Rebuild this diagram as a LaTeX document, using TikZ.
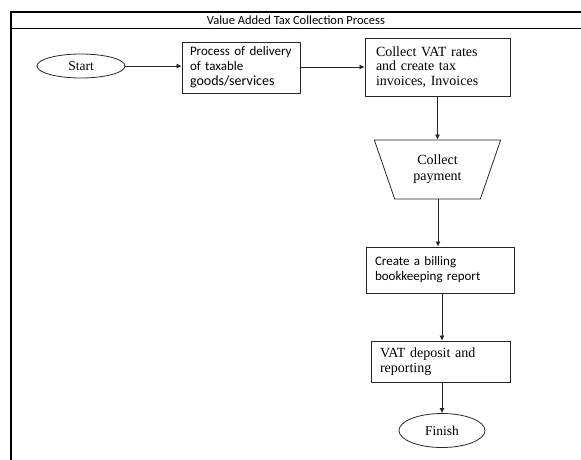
\documentclass[tikz,border=0pt]{standalone}
\usepackage{fontspec}
\setmainfont{Liberation Serif}
\newfontfamily\calib{Carlito}
\usetikzlibrary{arrows.meta,shapes.geometric}
\begin{document}
\begin{tikzpicture}[x=1pt,y=-1pt,
  frame/.style={line width=1.4pt,black},
  box/.style={draw=black!85,line width=0.8pt,rectangle,align=left,inner ysep=0pt},
  oval/.style={draw=black!85,line width=0.8pt,ellipse,inner sep=0pt,font=\fontsize{13.5}{14}\selectfont},
  arr/.style={draw=black!85,line width=0.7pt,-{Latex[length=5pt,width=5pt]}},
  sans/.style={font=\calib\fontsize{13}{15}\selectfont},
  serif/.style={font=\fontsize{14}{14.5}\selectfont}]
\useasboundingbox (0,0) rectangle (581,460);
% frame
\draw[frame] (11,460) -- (11,12) -- (581,12);
\draw[line width=0.9pt] (11,28) -- (581,28);
\node[font=\calib\fontsize{12.5}{12}\selectfont] (title) at (296,20) {Value Added Tax Collection Process};
% nodes
\node[oval,minimum width=88,minimum height=24] (start) at (81,66) {Start};
\node[box,sans,inner xsep=8,text width=102,minimum height=51] (deliv) at (241,67.5)
  {Process of delivery\\of taxable\\{\fontsize{14}{15}\selectfont goods/services}};
\node[box,serif,inner xsep=11,text width=123,minimum height=58] (vat) at (437.5,67)
  {Collect VAT rates\\and create tax\\invoices, Invoices};
\node[trapezium,draw=black!85,line width=0.8pt,trapezium angle=68.3,shape border rotate=180,
  trapezium stretches=true,minimum width=127,minimum height=59,align=center,
  font=\fontsize{14}{16}\selectfont,inner sep=0pt]
  (pay) at (437.5,169.5) {Collect\\payment};
\node[box,sans,inner xsep=9,text width=130,minimum height=46] (bill) at (440,270)
  {Create a billing\\bookkeeping report};
\node[box,serif,inner xsep=9,text width=121,minimum height=41] (dep) at (440.5,361.5)
  {VAT deposit and\\reporting};
\node[oval,minimum width=86,minimum height=34] (fin) at (442,430.5) {Finish};
% connectors
\draw[arr] (start.east) -- (start.east -| deliv.west);
\draw[arr] (deliv.east |- vat.west) -- (vat.west);
\draw[arr] (vat.south) -- (vat.south |- pay.north);
\draw[arr] (pay.south -| 438,0) -- (bill.north -| 438,0);
\draw[arr] (bill.south -| 442,0) -- (dep.north -| 442,0);
\draw[arr] (dep.south -| fin.north) -- (fin.north);
\end{tikzpicture}
\end{document}
